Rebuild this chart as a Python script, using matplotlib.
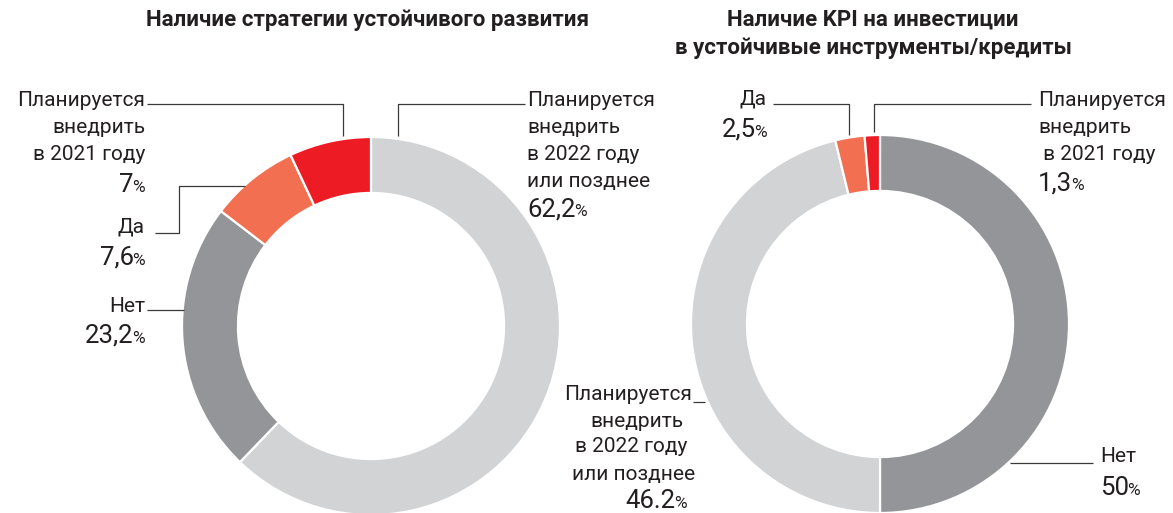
import matplotlib
matplotlib.use("Agg")
import matplotlib.pyplot as plt
import numpy as np

# ---------------- data ----------------
title_left = "Наличие стратегии устойчивого развития"
title_right_lines = ["Наличие KPI на инвестиции", "в устойчивые инструменты/кредиты"]

left_categories = ["Планируется внедрить в 2022 году или позднее", "Нет", "Да",
                   "Планируется внедрить в 2021 году"]
left_values = [62.2, 23.2, 7.6, 7.0]
left_value_labels = ["62,2", "23,2", "7,6", "7"]

right_categories = ["Нет", "Планируется внедрить в 2022 году или позднее", "Да",
                    "Планируется внедрить в 2021 году"]
right_values = [50.0, 46.2, 2.5, 1.3]
right_value_labels = ["50", "46.2", "2,5", "1,3"]

LIGHT, DARK, CORAL, RED = "#d1d3d4", "#939598", "#f26f52", "#ed1c24"
left_colors = [LIGHT, DARK, CORAL, RED]
right_colors = [DARK, LIGHT, CORAL, RED]

# ---------------- layout ----------------
W, H, DPI = 1173, 513, 100
R = 189.0
LIM = 1.02
TXT = "#231f20"
LINE = "#3a3a3a"
FONT = "Roboto"
LAB_FS = 15
NUM_FS = 18.5
PCT_FS = 12.5
TITLE_FS = 16

plt.rcParams["font.family"] = [FONT, "DejaVu Sans"]

fig = plt.figure(figsize=(W / DPI, H / DPI), dpi=DPI)


def pie_axes(cx, cy):
    half = R * LIM
    ax = fig.add_axes([(cx - half) / W, (H - cy - half) / H, 2 * half / W, 2 * half / H])
    return ax


ax_l = pie_axes(371, 326)
ax_r = pie_axes(880, 324)

for ax, vals, cols in [(ax_l, left_values, left_colors), (ax_r, right_values, right_colors)]:
    ax.pie(vals, colors=cols, startangle=90, counterclock=False, radius=1.0,
           wedgeprops=dict(width=0.296, edgecolor="white", linewidth=1.6))
    ax.set_xlim(-LIM, LIM)
    ax.set_ylim(-LIM, LIM)
    ax.set_aspect("equal", adjustable="box")
    ax.axis("off")

ax_o = fig.add_axes([0, 0, 1, 1])
ax_o.set_xlim(0, W)
ax_o.set_ylim(H, 0)
ax_o.axis("off")

fig.canvas.draw()
renderer = fig.canvas.get_renderer()
inv = ax_o.transData.inverted()


def edge_y_at_x(ax, xpx, gap=3):
    u = ax.transData.inverted().transform(ax_o.transData.transform((xpx, 0)))[0]
    v = np.sqrt(max(0.0, 1 - u ** 2))
    y = inv.transform(ax.transData.transform((u, v)))[1]
    return y - gap


def edge_x_at_y(ax, ypx, side=-1, gap=1):
    v = ax.transData.inverted().transform(ax_o.transData.transform((0, ypx)))[1]
    u = side * np.sqrt(max(0.0, 1 - v ** 2))
    x = inv.transform(ax.transData.transform((u, v)))[0]
    return x - side * gap


def leader(pts):
    xs, ys = zip(*pts)
    ax_o.plot(xs, ys, color=LINE, lw=0.9, solid_capstyle="butt")


def label_lines(x, baselines, lines, ha):
    xs = x if isinstance(x, (list, tuple)) else [x] * len(lines)
    for xx, yb, s in zip(xs, baselines, lines):
        ax_o.text(xx, yb, s, fontsize=LAB_FS, color=TXT, ha=ha, va="baseline")


def value_text(x, y, num, ha):
    if ha == "left":
        t = ax_o.text(x, y, num, fontsize=NUM_FS, color=TXT, ha="left", va="baseline")
        bb = t.get_window_extent(renderer)
        xe = inv.transform((bb.x1, 0))[0]
        ax_o.text(xe - 1.5, y, "%", fontsize=PCT_FS, color=TXT, ha="left", va="baseline")
    else:
        p = ax_o.text(x, y, "%", fontsize=PCT_FS, color=TXT, ha="right", va="baseline")
        bb = p.get_window_extent(renderer)
        xs = inv.transform((bb.x0, 0))[0]
        ax_o.text(xs + 1.5, y, num, fontsize=NUM_FS, color=TXT, ha="right", va="baseline")


# ---------------- titles ----------------
ax_o.text(368, 26, title_left, fontsize=TITLE_FS, fontweight="bold", color=TXT,
          ha="center", va="baseline")
ax_o.text(873, 26, title_right_lines[0], fontsize=TITLE_FS, fontweight="bold", color=TXT,
          ha="center", va="baseline")
ax_o.text(873, 54, title_right_lines[1], fontsize=TITLE_FS, fontweight="bold", color=TXT,
          ha="center", va="baseline")

# ---------------- left chart labels ----------------
# 2021
label_lines(145, [106, 133, 160], ["Планируется", "внедрить", "в 2021 году"], "right")
value_text(145, 192, left_value_labels[3], "right")
leader([(147, 104), (343, 104), (343, edge_y_at_x(ax_l, 343))])
# Да
label_lines(145, [232], ["Да"], "right")
value_text(145, 265, left_value_labels[2], "right")
leader([(155, 233), (179, 233), (179, 186), (edge_x_at_y(ax_l, 186), 186)])
# Нет
label_lines(145, [312], ["Нет"], "right")
value_text(145, 343, left_value_labels[1], "right")
leader([(147, 310), (edge_x_at_y(ax_l, 310), 310)])
# 2022+
label_lines(527, [106, 133, 160, 187], ["Планируется", "внедрить", "в 2022 году", "или позднее"], "left")
value_text(527, 216, left_value_labels[0], "left")
leader([(525, 104), (398, 104), (398, edge_y_at_x(ax_l, 398))])

# ---------------- right chart labels ----------------
# Да
label_lines(767, [105], ["Да"], "right")
value_text(767, 137, right_value_labels[2], "right")
leader([(773, 104), (849, 104), (849, edge_y_at_x(ax_r, 849))])
# 2021
label_lines(1038, [106, 133, 160], ["Планируется", "внедрить", " в 2021 году"], "left")
value_text(1038, 190, right_value_labels[3], "left")
leader([(1031, 104), (874, 104), (874, edge_y_at_x(ax_r, 874))])
# Нет
label_lines(1100, [462], ["Нет"], "left")
value_text(1100, 495, right_value_labels[0], "left")
leader([(1093, 463), (edge_x_at_y(ax_r, 463, side=1, gap=-2), 463)])
# 2022+
label_lines([692, 683, 687, 695], [400, 427, 452, 480],
            ["Планируется", "внедрить", "в 2022 году", "или позднее"], "right")
value_text(687, 508, right_value_labels[1], "right")
leader([(693, 402), (705, 402)])

fig.savefig("out.png", dpi=DPI)
